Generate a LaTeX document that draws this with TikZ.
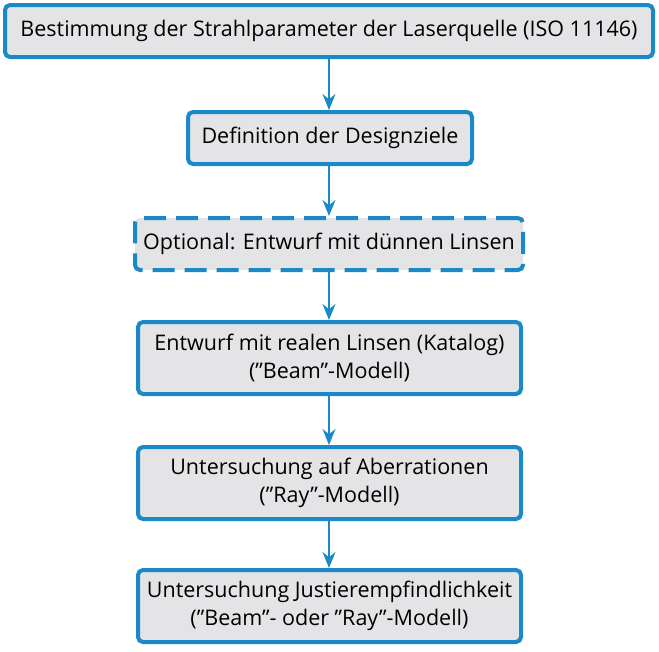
\documentclass[tikz,border=0pt]{standalone}
\usepackage{fontspec}
\setmainfont{Open Sans}
\usetikzlibrary{arrows.meta}
\definecolor{stepblue}{HTML}{1B88C8}
\definecolor{stepgray}{HTML}{E4E4E6}
\newcommand{\qm}{\char34\relax}
\begin{document}
\begin{tikzpicture}[x=1pt,y=-1pt,
	>={Stealth[length=16pt,width=13pt]},
	stepbox/.style={draw=stepblue,line width=4pt,fill=stepgray,rounded corners=5pt,
		inner sep=0pt,align=center,font=\fontsize{21.5}{28}\selectfont},
	optbox/.style={stepbox,dash pattern=on 22pt off 10pt},
	flow/.style={->,draw=stepblue,line width=2pt}]

	\useasboundingbox (0,0) rectangle (659,651);

	\node[stepbox,minimum width=648pt,minimum height=52pt]	(S1) at (329,31)	{Bestimmung der Strahlparameter der Laserquelle (ISO 11146)};
	\node[stepbox,minimum width=284pt,minimum height=52pt]	(S2) at (330,138)	{Definition der Designziele};
	\node[optbox,minimum width=388pt,minimum height=52pt]	(S3) at (329,244)	{Optional: Entwurf mit dünnen Linsen};
	\node[stepbox,minimum width=383pt,minimum height=72pt]	(S4) at (329.5,358)	{Entwurf mit realen Linsen (Katalog)\\(\qm Beam\qm-Modell)};
	\node[stepbox,minimum width=383pt,minimum height=72pt]	(S5) at (329.5,483)	{Untersuchung auf Aberrationen\\(\qm Ray\qm-Modell)};
	\node[stepbox,minimum width=383pt,minimum height=72pt]	(S6) at (329.5,606)	{Untersuchung Justierempfindlichkeit\\(\qm Beam\qm- oder \qm Ray\qm-Modell)};

	\foreach \a/\b in {S1/S2,S2/S3,S3/S4,S4/S5,S5/S6}
		\draw[flow] (\a.south -| S1.south) ++(0,2pt) coordinate (\a t) -- (\b.north -| \a t);

\end{tikzpicture}
\end{document}
